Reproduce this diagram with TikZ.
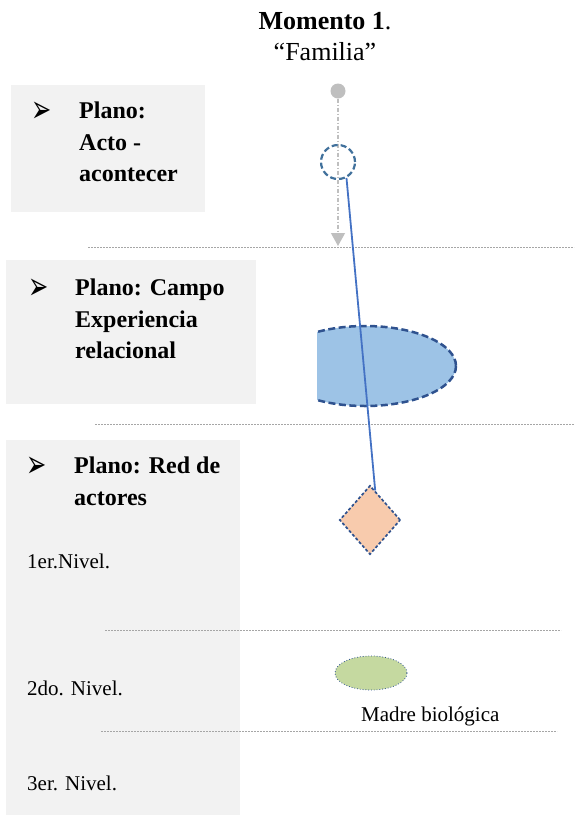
\documentclass[tikz,border=0pt]{standalone}
\usepackage{fontspec}
\usepackage{graphicx}
\setmainfont{Liberation Serif}
\newfontfamily\symfont{DejaVu Sans}
\usetikzlibrary{shapes.geometric,arrows.meta}
\definecolor{boxgray}{HTML}{F2F2F2}
\definecolor{sepgray}{HTML}{A6A6A6}
\definecolor{dotgray}{HTML}{BFBFBF}
\definecolor{edgeblue}{HTML}{41719C}
\definecolor{darkblue}{HTML}{2F528F}
\definecolor{lineblue}{HTML}{4472C4}
\definecolor{ellblue}{HTML}{9DC3E6}
\definecolor{peach}{HTML}{F8CBAD}
\definecolor{leafgreen}{HTML}{C5D9A0}
\newcommand{\mybullet}{\scalebox{1.1}[1.75]{\symfont\fontsize{22}{22}\selectfont ➢}}
\begin{document}
\begin{tikzpicture}[x=1pt,y=-1pt,
  gbox/.style={fill=boxgray,draw=none},
  sepline/.style={draw=sepgray,line width=1pt,dash pattern=on 2pt off 1pt},
  bul/.style={anchor=base west,inner sep=0pt},
  btxt/.style={anchor=base west,inner sep=0pt,font=\fontsize{24}{24}\selectfont\bfseries},
  rtxt/.style={anchor=base west,inner sep=0pt,font=\fontsize{21}{21}\selectfont},
  ttl/.style={anchor=base,inner sep=0pt,font=\fontsize{26}{26}\selectfont}]
\useasboundingbox (0,0) rectangle (574,815);
% gray boxes
\path[gbox] (11,85) rectangle (205,212);
\path[gbox] (6,260) rectangle (256,404);
\path[gbox] (6,440) rectangle (240,815);
% separators
\draw[sepline] (88,247) -- (574,247);
\draw[sepline] (95,424) -- (574,424);
\draw[sepline] (105,630) -- (561,630);
\draw[sepline] (101,731) -- (557,731);
% title
\node[ttl] (t1) at (325,29) {\textbf{Momento 1}.};
\node[ttl] (t2) at (325,60) {“Familia”};
% box 1 text
\node[bul] (b1) at (31,122) {\mybullet};
\node[btxt] (p1a) at (79,118) {Plano:};
\node[btxt] (p1b) at (79,150) {Acto -};
\node[btxt] (p1c) at (79,181) {acontecer};
% box 2 text
\node[bul] (b2) at (28,299) {\mybullet};
\node[btxt] (p2a) at (75,295) {Plano: Campo};
\node[btxt] (p2b) at (75,327) {Experiencia};
\node[btxt] (p2c) at (75,358) {relacional};
% box 3 text
\node[bul] (b3) at (26,477) {\mybullet};
\node[btxt] (p3a) at (74,473) {Plano: Red de};
\node[btxt] (p3b) at (74,505) {actores};
\node[rtxt] (n1) at (27,568) {1er.Nivel.};
\node[rtxt] (n2) at (27,695) {2do. Nivel.};
\node[rtxt] (n3) at (27,790) {3er. Nivel.};
% half ellipse
\begin{scope}
  \clip (317,300) rectangle (480,430);
  \fill[ellblue] (365,366) ellipse [x radius=91, y radius=40];
  \draw[darkblue,line width=2.5pt,dash pattern=on 7pt off 3.5pt] (365,366) ellipse [x radius=91, y radius=40];
\end{scope}
% gray dot and dash-dot arrow
\node[circle,fill=dotgray,inner sep=0pt,minimum size=15pt] (gdot) at (338,91) {};
\coordinate (gend) at (338,246);
\draw[dotgray,line width=1.2pt,dash pattern=on 4pt off 2pt on 1pt off 2pt,
  -{Triangle[width=14pt,length=13pt]}] (gdot) -- (gend);
% dashed circle
\node[circle,draw=edgeblue,line width=2.2pt,dash pattern=on 6pt off 3pt,inner sep=0pt,minimum size=34pt] (circ) at (338,162) {};
% diamond
\node[diamond,fill=peach,draw=darkblue,line width=1.7pt,dash pattern=on 3pt off 2pt,inner sep=0pt,minimum width=61pt,minimum height=69pt] (dia) at (370,520) {};
% blue line
\draw[lineblue,line width=1.8pt] (circ.-62) -- (dia.80);
% green ellipse
\node[ellipse,fill=leafgreen,draw=darkblue,line width=0.8pt,dotted,inner sep=0pt,minimum width=72pt,minimum height=34pt] (mom) at (371,673) {};
\node[rtxt] (mlab) at (361,721) {Madre biológica};
\end{tikzpicture}
\end{document}
